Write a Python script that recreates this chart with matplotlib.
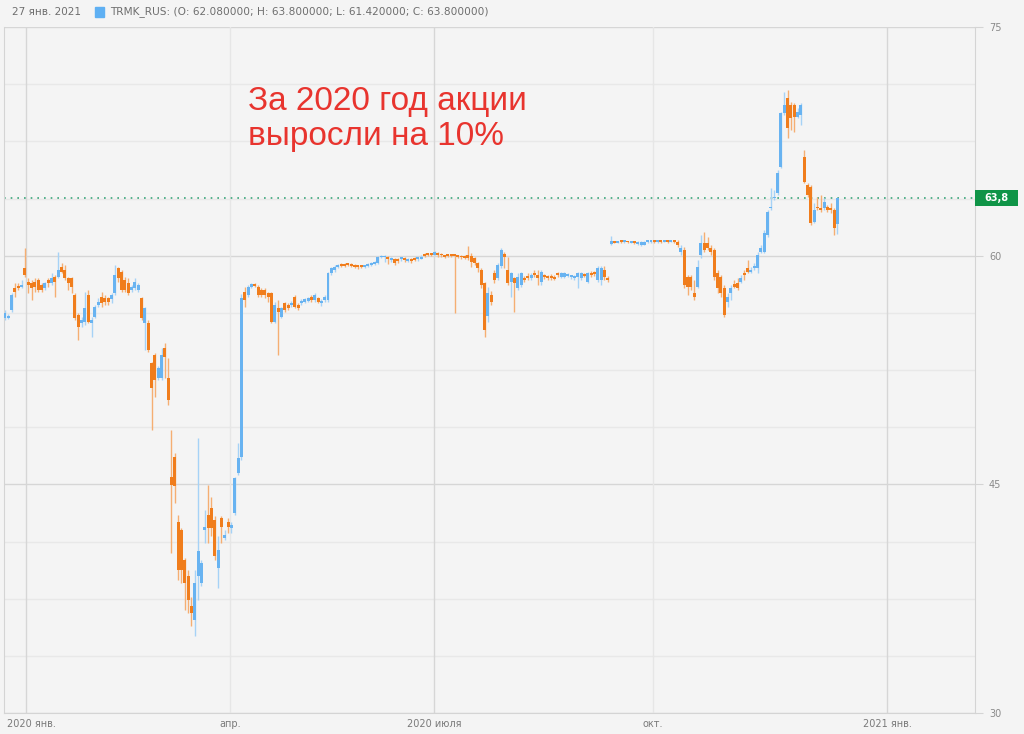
import numpy as np
import matplotlib
matplotlib.use("Agg")
import matplotlib.pyplot as plt
from matplotlib.patches import Rectangle
from matplotlib.transforms import blended_transform_factory

# daily candles TRMK_RUS, Jan 2020 .. Jan 2021
opens = [
    55.89, 55.89, 56.44, 57.86, 57.97, 57.93, 59.17, 58.30, 58.19, 58.30,
    58.41, 58.08, 57.86, 58.41, 58.19, 58.63, 58.63, 59.28, 59.06, 58.52,
    58.52, 57.42, 56.11, 55.57, 55.67, 57.42, 55.57, 56.00, 56.77, 57.31,
    57.20, 57.20, 57.14, 57.53, 59.17, 58.95, 58.41, 58.19, 57.75, 57.86,
    57.75, 57.20, 55.57, 55.57, 52.94, 53.49, 51.96, 51.96, 53.93, 51.96,
    45.51, 46.82, 42.56, 42.02, 40.05, 38.96, 36.99, 36.11, 38.96, 38.52,
    42.02, 43.00, 43.44, 42.67, 39.50, 42.78, 41.47, 42.50, 42.13, 43.11,
    45.73, 46.82, 57.64, 57.42, 57.97, 58.12, 57.97, 57.75, 57.75, 57.53,
    57.53, 55.67, 56.55, 56.00, 56.88, 56.77, 56.77, 57.31, 56.77, 56.88,
    56.99, 57.05, 57.31, 57.10, 57.20, 56.88, 57.10, 57.10, 58.84, 59.06,
    59.24, 59.43, 59.46, 59.50, 59.46, 59.39, 59.33, 59.33, 59.28, 59.33,
    59.39, 59.46, 59.50, 59.89, 59.89, 59.89, 59.72, 59.76, 59.76, 59.76,
    59.81, 59.67, 59.76, 59.81, 59.76, 59.81, 60.07, 60.13, 60.16, 60.07,
    60.20, 60.11, 60.02, 60.05, 60.07, 60.07, 60.00, 59.98, 59.98, 60.05,
    59.95, 59.83, 59.50, 59.07, 58.19, 56.01, 57.43, 58.85, 58.52, 59.29,
    60.12, 59.07, 58.30, 58.52, 57.86, 58.08, 58.56, 58.67, 58.52, 58.89,
    58.74, 58.30, 58.70, 58.63, 58.67, 58.63, 58.89, 58.63, 58.63, 58.67,
    58.59, 58.56, 58.63, 58.52, 58.78, 58.30, 58.89, 58.94, 58.41, 58.41,
    59.07, 58.56, 60.75, 60.90, 60.85, 60.92, 60.88, 60.90, 60.85, 60.90,
    60.78, 60.70, 60.72, 60.88, 60.90, 60.94, 60.90, 60.93, 60.92, 60.95,
    60.92, 60.95, 60.92, 60.26, 60.37, 58.62, 58.62, 57.53, 57.97, 60.04,
    60.81, 60.81, 60.48, 60.37, 58.84, 58.62, 57.86, 56.98, 57.53, 58.14,
    58.19, 58.30, 58.84, 59.17, 58.95, 59.17, 59.17, 60.26, 60.26, 61.36,
    63.10, 63.76, 64.09, 65.84, 69.33, 70.32, 69.88, 69.88, 69.11, 69.22,
    66.49, 64.63, 64.52, 62.23, 63.21, 63.15, 63.10, 63.21, 63.10, 62.99,
    62.08,
]
highs = [
    56.44, 56.18, 57.53, 58.19, 58.23, 58.41, 60.48, 58.52, 58.41, 58.52,
    58.52, 58.19, 58.30, 58.52, 58.84, 58.73, 60.26, 59.50, 59.39, 58.63,
    58.63, 57.53, 56.22, 56.00, 57.64, 57.75, 56.00, 56.77, 57.20, 57.64,
    57.42, 57.31, 57.53, 59.39, 59.28, 59.06, 58.63, 58.52, 58.08, 58.52,
    58.19, 57.31, 56.66, 55.78, 53.05, 53.60, 52.73, 53.93, 54.26, 53.27,
    48.57, 47.04, 42.99, 42.13, 40.16, 39.39, 37.64, 39.39, 48.03, 40.05,
    43.33, 44.97, 44.20, 42.89, 41.58, 42.89, 42.02, 42.78, 42.56, 45.51,
    47.70, 57.50, 57.97, 58.08, 58.23, 58.23, 58.08, 57.86, 57.86, 57.64,
    57.64, 56.99, 57.10, 56.66, 56.99, 56.88, 57.03, 57.42, 56.88, 57.14,
    57.25, 57.31, 57.42, 57.58, 57.31, 57.14, 57.42, 58.95, 59.28, 59.39,
    59.46, 59.50, 59.54, 59.54, 59.50, 59.46, 59.39, 59.39, 59.41, 59.50,
    59.59, 59.67, 59.98, 60.07, 60.05, 59.98, 59.94, 59.83, 59.83, 59.94,
    59.89, 59.83, 59.83, 59.89, 59.94, 60.02, 60.16, 60.20, 60.20, 60.29,
    60.26, 60.16, 60.07, 60.09, 60.11, 60.11, 60.05, 60.02, 60.02, 60.64,
    60.16, 59.94, 59.61, 59.18, 58.30, 57.97, 57.65, 59.07, 59.50, 60.49,
    60.27, 59.94, 58.96, 58.63, 58.85, 58.96, 58.67, 58.85, 58.85, 59.07,
    59.07, 59.07, 58.78, 58.74, 58.78, 58.74, 58.96, 58.96, 58.94, 58.89,
    58.76, 58.76, 58.94, 58.96, 58.89, 58.96, 58.98, 59.02, 59.29, 59.33,
    59.29, 58.67, 61.30, 60.98, 60.98, 60.98, 60.97, 60.95, 60.96, 60.98,
    60.95, 60.95, 60.96, 60.97, 61.00, 60.99, 60.98, 60.97, 61.00, 61.00,
    61.00, 61.00, 61.03, 60.70, 60.59, 58.73, 58.73, 58.41, 59.72, 61.36,
    61.57, 61.25, 60.70, 60.48, 59.06, 58.73, 58.08, 57.53, 58.08, 58.41,
    58.52, 58.73, 59.06, 59.72, 59.28, 59.50, 60.26, 60.70, 61.68, 63.00,
    64.42, 64.31, 65.62, 69.44, 70.76, 70.86, 70.10, 69.99, 69.66, 69.99,
    66.93, 64.74, 64.63, 63.43, 63.87, 63.98, 63.76, 63.32, 63.43, 63.10,
    63.80,
]
lows = [
    55.78, 55.83, 56.33, 57.31, 57.75, 57.86, 58.63, 57.53, 57.10, 57.64,
    57.64, 57.64, 57.75, 57.97, 58.08, 57.31, 58.52, 58.84, 58.41, 57.75,
    57.53, 55.78, 54.47, 55.35, 55.46, 55.57, 54.69, 55.89, 56.66, 56.66,
    56.77, 56.77, 56.92, 57.42, 58.30, 57.64, 57.64, 57.42, 57.64, 57.75,
    57.64, 55.78, 53.82, 53.71, 48.57, 50.76, 51.85, 51.85, 51.96, 50.21,
    40.49, 43.76, 38.74, 38.52, 36.77, 36.55, 35.68, 35.02, 37.42, 38.30,
    41.14, 41.14, 41.58, 40.05, 38.19, 41.14, 41.36, 41.80, 41.80, 43.00,
    45.62, 46.60, 56.66, 57.31, 57.86, 57.93, 57.31, 57.31, 57.20, 56.99,
    55.57, 55.57, 53.49, 55.89, 56.33, 56.44, 56.66, 56.55, 56.44, 56.77,
    56.88, 56.96, 56.99, 56.99, 56.88, 56.70, 56.99, 56.99, 58.73, 58.95,
    59.17, 59.24, 59.24, 59.33, 59.24, 59.17, 59.11, 59.17, 59.19, 59.28,
    59.33, 59.39, 59.46, 59.83, 59.61, 59.46, 59.61, 59.39, 59.54, 59.67,
    59.59, 59.59, 59.54, 59.63, 59.67, 59.76, 59.89, 59.98, 59.98, 60.02,
    59.94, 59.94, 59.85, 59.89, 59.94, 56.22, 59.83, 59.81, 59.76, 59.72,
    59.28, 59.40, 58.96, 57.86, 54.69, 55.68, 56.77, 58.19, 58.41, 59.18,
    59.18, 58.08, 57.32, 56.33, 57.76, 57.97, 58.30, 58.41, 58.41, 58.63,
    58.08, 58.08, 58.46, 58.41, 58.41, 58.41, 58.63, 58.52, 58.52, 58.59,
    58.46, 58.41, 57.87, 58.41, 58.59, 58.19, 58.63, 58.67, 58.30, 58.08,
    58.41, 58.30, 60.70, 60.80, 60.80, 60.82, 60.83, 60.80, 60.80, 60.78,
    60.72, 60.65, 60.68, 60.84, 60.85, 60.86, 60.86, 60.86, 60.88, 60.86,
    60.88, 60.86, 60.59, 60.04, 57.86, 57.42, 57.75, 57.09, 57.86, 59.83,
    60.26, 60.37, 60.04, 58.41, 57.53, 57.31, 56.00, 56.66, 57.09, 57.86,
    57.75, 58.19, 58.41, 58.84, 58.84, 59.06, 58.84, 60.15, 60.15, 61.25,
    63.00, 63.65, 63.98, 65.73, 69.22, 67.69, 68.24, 68.13, 69.00, 68.57,
    64.74, 63.87, 62.01, 62.12, 62.99, 62.89, 62.99, 62.89, 62.78, 61.36,
    61.42,
]
closes = [
    56.22, 56.05, 57.42, 57.64, 57.90, 58.01, 58.73, 58.08, 57.86, 57.97,
    57.75, 57.75, 58.19, 58.19, 58.52, 58.30, 59.06, 58.95, 58.52, 58.19,
    57.97, 55.89, 55.35, 55.78, 56.55, 55.67, 55.78, 56.66, 56.99, 56.88,
    56.99, 56.99, 57.42, 58.73, 58.52, 57.75, 57.75, 57.53, 57.97, 58.30,
    58.08, 55.89, 56.55, 53.82, 51.30, 51.85, 52.62, 53.49, 53.38, 50.54,
    44.97, 44.86, 39.39, 39.39, 38.52, 37.42, 36.55, 38.52, 40.60, 39.83,
    42.23, 42.13, 42.13, 40.27, 40.71, 42.23, 41.69, 42.23, 42.34, 45.40,
    46.72, 57.20, 57.10, 57.97, 58.12, 58.01, 57.42, 57.42, 57.42, 57.31,
    55.67, 56.77, 56.33, 56.55, 56.44, 56.55, 56.92, 56.66, 56.55, 57.03,
    57.14, 57.20, 57.10, 57.42, 56.99, 57.05, 57.31, 58.84, 59.17, 59.28,
    59.33, 59.33, 59.33, 59.41, 59.33, 59.28, 59.24, 59.26, 59.35, 59.41,
    59.50, 59.59, 59.89, 60.00, 59.98, 59.76, 59.83, 59.50, 59.67, 59.85,
    59.72, 59.76, 59.67, 59.72, 59.85, 59.94, 59.98, 60.07, 60.07, 60.22,
    60.02, 60.02, 59.94, 59.98, 60.00, 60.00, 59.92, 59.89, 59.87, 59.83,
    59.60, 59.50, 59.18, 58.08, 55.13, 57.54, 56.99, 58.41, 59.40, 60.38,
    59.94, 58.19, 58.85, 58.19, 58.63, 58.85, 58.41, 58.52, 58.74, 58.74,
    58.52, 58.96, 58.59, 58.52, 58.56, 58.50, 58.76, 58.85, 58.85, 58.78,
    58.67, 58.67, 58.85, 58.85, 58.67, 58.85, 58.76, 58.80, 59.18, 59.18,
    58.63, 58.41, 60.95, 60.85, 60.92, 60.88, 60.92, 60.87, 60.90, 60.85,
    60.90, 60.90, 60.92, 60.92, 60.94, 60.90, 60.93, 60.90, 60.95, 60.90,
    60.96, 60.90, 60.70, 60.48, 58.08, 57.97, 57.97, 57.31, 59.28, 60.81,
    60.37, 60.48, 60.26, 58.62, 57.86, 57.53, 56.11, 57.31, 57.86, 57.97,
    57.86, 58.52, 58.73, 58.95, 59.06, 59.32, 60.04, 60.48, 61.47, 62.89,
    63.21, 63.87, 65.40, 69.33, 69.88, 68.35, 69.00, 69.11, 69.44, 69.88,
    64.85, 63.98, 62.12, 62.99, 63.10, 62.99, 63.54, 62.99, 62.99, 61.79,
    63.80,
]

last_price = 63.8
tick_labels = ["2020 янв.", "апр.", "2020 июля", "окт.", "2021 янв."]
tick_pos = [8.0, 67.6, 128.8, 194.6, 264.9]
major_x = [6.3, 128.8, 264.9]
minor_x = [67.6, 194.6]

up_col = "#68b3f1"
down_col = "#f07d1c"
up_wick = "#a6d2f6"
down_wick = "#f5ae72"
bg = "#f4f4f4"

o = np.array(opens)
h = np.array(highs)
l = np.array(lows)
c = np.array(closes)
x = np.arange(len(o))
up = c >= o

fig = plt.figure(figsize=(10.24, 7.34), dpi=100, facecolor=bg)
ax = fig.add_axes([4 / 1024, 21 / 734, 971 / 1024, 686 / 734])
ax.set_facecolor(bg)
ax.set_xlim(-0.3, 291.3)
ax.set_ylim(30, 75)

# grid
for v in np.arange(30, 75.01, 3.75):
    major = abs(v % 15) < 1e-6
    ax.axhline(v, color="#d6d6d6" if major else "#e8e8e8", lw=1.0, zorder=0)
for v in major_x:
    ax.axvline(v, color="#d6d6d6", lw=1.0, zorder=0)
for v in minor_x:
    ax.axvline(v, color="#e6e6e6", lw=1.0, zorder=0)

# candles
ax.vlines(x[up], l[up], h[up], color=up_wick, lw=1.0, zorder=2)
ax.vlines(x[~up], l[~up], h[~up], color=down_wick, lw=1.0, zorder=2)
bottom = np.minimum(o, c)
height = np.maximum(np.abs(c - o), 0.12)
ax.bar(x[up], height[up], bottom=bottom[up], width=0.9, color=up_col, zorder=3)
ax.bar(x[~up], height[~up], bottom=bottom[~up], width=0.9, color=down_col, zorder=3)

# last price line and tag
ax.axhline(last_price, color="#3aa57a", lw=1.2, linestyle=(0, (1, 3)), zorder=1)
tr = blended_transform_factory(ax.transAxes, ax.transData)
ax.add_patch(Rectangle((1.0, last_price - 0.52), 43 / 971, 1.04, transform=tr,
                       fc="#0f9447", ec="none", clip_on=False, zorder=5))
ax.text(1.0 + 21.5 / 971, last_price, "63,8", transform=tr, ha="center",
        va="center", color="white", fontsize=7, fontweight="bold",
        clip_on=False, zorder=6)

# axes styling
ax.spines["top"].set_visible(False)
for s in ["left", "right", "bottom"]:
    ax.spines[s].set_color("#d4d4d4")
ax.yaxis.tick_right()
ax.set_yticks([30, 45, 60, 75])
ax.set_yticklabels(["30", "45", "60", "75"])
ax.tick_params(axis="y", length=6, color="#d4d4d4", labelcolor="#8a8a8a",
               labelsize=7, pad=4)
ax.set_xticks(tick_pos)
ax.set_xticklabels(tick_labels)
ax.tick_params(axis="x", length=0, labelcolor="#7a7a7a", labelsize=7, pad=4)

# header
fig.text(12 / 1024, 1 - 12 / 734, "27 янв. 2021", color="#6e6e6e",
         fontsize=7.5, va="center", ha="left")
fig.patches.append(Rectangle((95 / 1024, 1 - 17 / 734), 9 / 1024, 10 / 734,
                             transform=fig.transFigure, color="#5fb0f3"))
fig.text(110 / 1024, 1 - 12 / 734,
         "TRMK_RUS: (O: 62.080000; H: 63.800000; L: 61.420000; C: 63.800000)",
         color="#6e6e6e", fontsize=7.6, va="center", ha="left")

# annotation
fig.text(248 / 1024, 1 - 86 / 734, "За 2020 год акции\nвыросли на 10%",
         color="#e8342e", fontsize=24, family="Liberation Sans",
         ha="left", va="top", linespacing=1.15)

fig.savefig("out.png", dpi=100, facecolor=bg)
